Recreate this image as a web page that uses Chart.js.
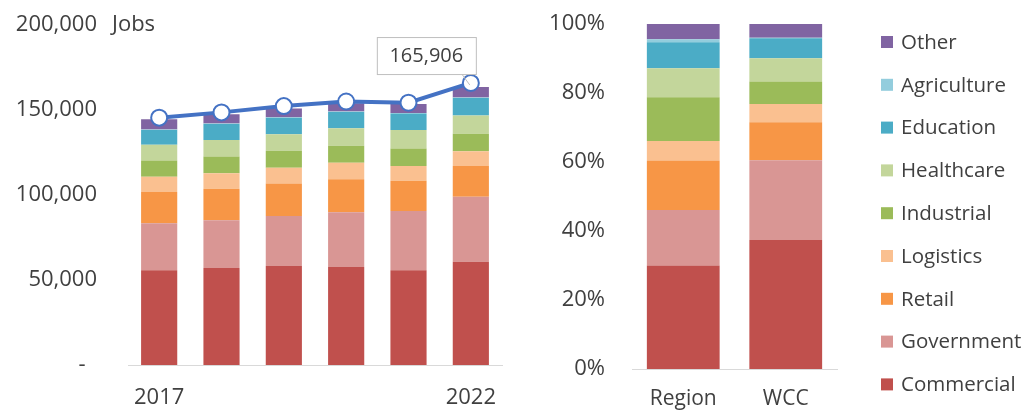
<!DOCTYPE html>
<html>
<head>
<meta charset="utf-8">
<script src="https://cdn.jsdelivr.net/npm/chart.js@4/dist/chart.umd.min.js"></script>
<style>
  body { margin: 0; background: #fff; }
  #left { position: absolute; left: 0; top: 0; width: 520px; height: 413px; }
  #right { position: absolute; left: 520px; top: 0; width: 506px; height: 413px; }
</style>
</head>
<body>
<div id="left"><canvas id="jobsChart"></canvas></div>
<div id="right"><canvas id="shareChart"></canvas></div>
<script>
// categories
const years = ['2017', '2018', '2019', '2020', '2021', '2022'];
const areas = ['Region', 'WCC'];
const sectors = ['Commercial', 'Government', 'Retail', 'Logistics', 'Industrial', 'Healthcare', 'Education', 'Agriculture', 'Other'];
const colors = ['#c0504d', '#d99694', '#f79646', '#fac090', '#9bbb59', '#c3d69b', '#4bacc6', '#93cddd', '#8064a2'];

// jobs by sector, 2017..2022
const commercial  = [55700, 57000, 58200, 57600, 55700, 60800];
const government  = [27700, 28100, 29400, 32200, 34900, 38200];
const retail      = [18300, 18600, 19200, 19400, 17800, 18100];
const logistics   = [9000, 9100, 9200, 9800, 8700, 8700];
const industrial  = [9600, 9800, 10000, 10000, 10200, 10200];
const healthcare  = [9200, 9700, 9800, 10200, 11000, 10800];
const education   = [8800, 9400, 9600, 9600, 9600, 10200];
const agriculture = [300, 300, 300, 300, 300, 300];
const other       = [6000, 5500, 5200, 4800, 5400, 6200];
const totalJobs   = [145500, 148600, 152300, 155000, 154300, 165906];

// share of jobs (%), Region / WCC
const shareCommercial  = [30.0, 37.4];
const shareGovernment  = [16.1, 23.1];
const shareRetail      = [14.3, 11.0];
const shareLogistics   = [5.7, 5.3];
const shareIndustrial  = [12.7, 6.5];
const shareHealthcare  = [8.4, 6.8];
const shareEducation   = [7.5, 5.8];
const shareAgriculture = [0.9, 0.1];
const shareOther       = [4.4, 4.0];

// y tick labels
const jobTicks = [0, 50000, 100000, 150000, 200000];
const pctTicks = [0, 20, 40, 60, 80, 100];

Chart.defaults.font.family = "'Open Sans', sans-serif";
Chart.defaults.color = '#404040';
Chart.defaults.animation = false;

const jobsSeries = [commercial, government, retail, logistics, industrial, healthcare, education, agriculture, other];
const shareSeries = [shareCommercial, shareGovernment, shareRetail, shareLogistics, shareIndustrial, shareHealthcare, shareEducation, shareAgriculture, shareOther];

const makeBars = (series, pct) => series.map((d, i) => ({
    type: 'bar',
    label: sectors[i],
    data: d,
    backgroundColor: colors[i],
    borderWidth: 0,
    stack: 'jobs',
    order: 1,
    barPercentage: pct,
    categoryPercentage: 1
}));

// "Jobs" title + callout for the last total
const jobsExtras = {
    id: 'jobsExtras',
    afterDatasetsDraw(chart) {
        const ctx = chart.ctx;
        const y = chart.scales.y;
        ctx.save();
        ctx.fillStyle = '#404040';
        ctx.font = "22px 'Open Sans', sans-serif";
        ctx.textAlign = 'left';
        ctx.textBaseline = 'middle';
        ctx.fillText('Jobs', 112, y.getPixelForValue(jobTicks[jobTicks.length - 1]));

        const meta = chart.getDatasetMeta(sectors.length);
        const pt = meta.data[meta.data.length - 1];
        const bx = pt.x - 94, by = pt.y - 50, bw = 99, bh = 37;
        ctx.strokeStyle = '#bfbfbf';
        ctx.lineWidth = 1;
        ctx.beginPath();
        ctx.moveTo(pt.x - 9, by + bh);
        ctx.lineTo(pt.x - 1, pt.y - 2);
        ctx.stroke();
        ctx.fillStyle = '#fff';
        ctx.fillRect(bx, by, bw, bh);
        ctx.strokeRect(bx + 0.5, by + 0.5, bw, bh);
        ctx.fillStyle = '#404040';
        ctx.font = "20px 'Open Sans', sans-serif";
        ctx.textAlign = 'center';
        ctx.fillText(totalJobs[totalJobs.length - 1].toLocaleString('en-US'), bx + bw / 2, by + bh / 2 + 1);
        ctx.restore();
    }
};

new Chart(document.getElementById('jobsChart'), {
    data: {
        labels: years,
        datasets: [{
            type: 'line',
            label: 'Total',
            data: totalJobs,
            borderColor: '#4472c4',
            borderWidth: 4,
            pointRadius: 8,
            pointBackgroundColor: '#fff',
            pointBorderColor: '#4472c4',
            pointBorderWidth: 2,
            stack: 'total',
            order: 0
        }].concat(makeBars(jobsSeries, 0.58))
    },
    options: {
        responsive: true,
        maintainAspectRatio: false,
        layout: { padding: { top: 25, right: 18, bottom: 2, left: 0 } },
        plugins: { legend: { display: false }, tooltip: { enabled: false } },
        scales: {
            x: {
                stacked: true,
                grid: { display: false, drawTicks: false },
                border: { display: true, color: '#d9d9d9', width: 1 },
                afterFit: (s) => { s.height = 46; },
                ticks: {
                    autoSkip: false,
                    maxRotation: 0,
                    padding: 20,
                    font: { size: 22 },
                    callback: (v, i) => (i === 0 || i === years.length - 1) ? years[i] : ''
                }
            },
            y: {
                stacked: true,
                min: 0,
                max: 200000,
                grid: { display: false, drawTicks: true, tickLength: 31 },
                border: { display: false },
                afterFit: (s) => { s.width = 128; },
                afterBuildTicks: (s) => { s.ticks = jobTicks.map(v => ({ value: v })); },
                ticks: {
                    padding: 0,
                    font: { size: 22 },
                    callback: (v) => v === 0 ? '-  ' : v.toLocaleString('en-US')
                }
            }
        }
    },
    plugins: [jobsExtras]
});

// legend on the right, top item = last dataset
const sideLegend = {
    id: 'sideLegend',
    afterDraw(chart) {
        const ctx = chart.ctx;
        const ds = chart.data.datasets;
        ctx.save();
        ctx.font = "20.5px 'Open Sans', sans-serif";
        ctx.textAlign = 'left';
        ctx.textBaseline = 'middle';
        for (let k = 0; k < ds.length; k++) {
            const d = ds[ds.length - 1 - k];
            const y = 42 + k * 42.8;
            ctx.fillStyle = d.backgroundColor;
            ctx.fillRect(361, y - 6, 12, 12);
            ctx.fillStyle = '#404040';
            ctx.fillText(d.label, 381, y + 1);
        }
        ctx.restore();
    }
};

new Chart(document.getElementById('shareChart'), {
    type: 'bar',
    data: {
        labels: areas,
        datasets: makeBars(shareSeries, 0.71)
    },
    options: {
        responsive: true,
        maintainAspectRatio: false,
        layout: { padding: { top: 24, right: 189, bottom: 2, left: 0 } },
        plugins: { legend: { display: false }, tooltip: { enabled: false } },
        scales: {
            x: {
                stacked: true,
                grid: { display: false, drawTicks: false },
                border: { display: true, color: '#d9d9d9', width: 1 },
                afterFit: (s) => { s.height = 42; },
                ticks: { padding: 17, font: { size: 21 }, maxRotation: 0 }
            },
            y: {
                stacked: true,
                min: 0,
                max: 100,
                grid: { display: false, drawTicks: true, tickLength: 27 },
                border: { display: false },
                afterFit: (s) => { s.width = 112; },
                afterBuildTicks: (s) => { s.ticks = pctTicks.map(v => ({ value: v })); },
                ticks: {
                    padding: 0,
                    font: { size: 22 },
                    callback: (v) => v + '%'
                }
            }
        }
    },
    plugins: [sideLegend]
});
</script>
</body>
</html>
